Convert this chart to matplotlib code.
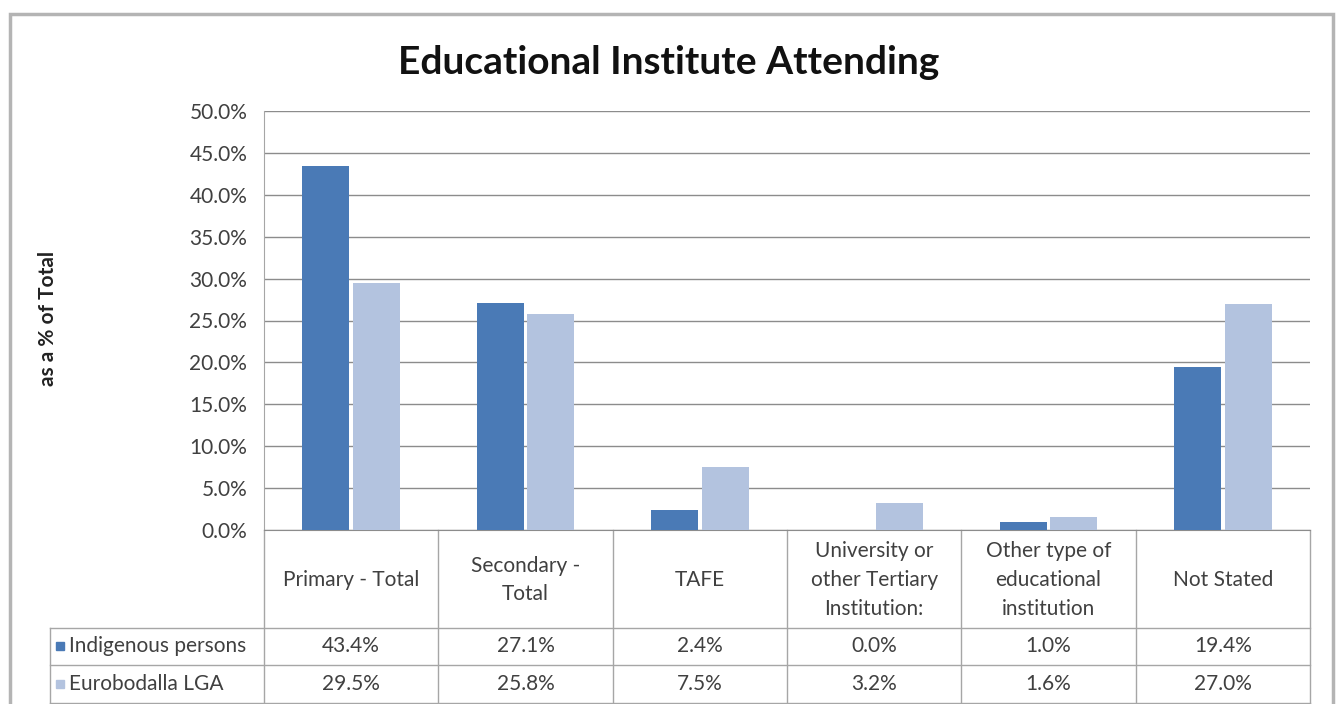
import numpy as np
import matplotlib
matplotlib.use("Agg")
import matplotlib.pyplot as plt
import matplotlib.transforms as mtransforms

categories = ["Primary - Total", "Secondary -\nTotal", "TAFE",
              "University or\nother Tertiary\nInstitution:",
              "Other type of\neducational\ninstitution", "Not Stated"]
indigenous = [43.4, 27.1, 2.4, 0.0, 1.0, 19.4]
eurobodalla = [29.5, 25.8, 7.5, 3.2, 1.6, 27.0]
series_names = ["Indigenous persons", "Eurobodalla LGA"]
yticks = np.arange(0, 50.1, 5)

dark = "#4a7ab6"
light = "#b3c3df"
grid_col = "#8c8c8c"
line_col = "#a6a6a6"
txt_col = "#404040"
fs = 15

plt.rcParams['font.family'] = ['Lato', 'DejaVu Sans']

W, H = 1338, 704
fig = plt.figure(figsize=(W / 100, H / 100), dpi=100)

# outer chart frame
fig.add_artist(plt.Rectangle((10 / W, -0.05), (1333 - 10) / W, (H - 14) / H + 0.05,
                             transform=fig.transFigure, fill=False,
                             edgecolor="#b4b4b4", linewidth=2.5))

# plot area
left, right, top, bottom = 264, 1310, 111, 530
ax = fig.add_axes([left / W, 1 - bottom / H, (right - left) / W, (bottom - top) / H])

x = np.arange(len(categories))
bw = 0.27
ax.bar(x - bw / 2 - 0.01, indigenous, width=bw, color=dark, zorder=3)
ax.bar(x + bw / 2 + 0.01, eurobodalla, width=bw, color=light, zorder=3)

ax.set_xlim(-0.5, len(categories) - 0.5)
ax.set_ylim(0, 50)
ax.set_yticks(yticks)
ax.set_yticklabels(["%.1f%%" % v for v in yticks], fontsize=fs, color=txt_col)
ax.yaxis.grid(True, color=grid_col, linewidth=1.0, zorder=0)
ax.set_xticks([])
ax.tick_params(axis="y", length=0, pad=12)
for s in ["top", "right", "bottom"]:
    ax.spines[s].set_visible(False)
ax.spines["left"].set_color(line_col)
ax.spines["bottom"].set_visible(True)
ax.spines["bottom"].set_color(grid_col)

ax.set_ylabel("as a % of Total", fontsize=fs, fontweight="bold", color="#222222", labelpad=0)
ax.yaxis.set_label_coords(-(left - 58) / (right - left), (bottom - 318) / (bottom - top))

fig.text(0.5, 1 - 62 / H, "Educational Institute Attending", ha="center", va="center",
         fontsize=28, fontweight="bold", color="#111111")

# data table below the plot area (x in data coords, y in pixels converted to axes coords)
ph = bottom - top
def ay(py):
    return (bottom - py) / ph

trans = mtransforms.blended_transform_factory(ax.transData, ax.transAxes)
ftrans = mtransforms.blended_transform_factory(fig.transFigure, ax.transAxes)
kw = dict(color=line_col, linewidth=1.0, clip_on=False)

row_tops = [628, 665]
row_bot = 704
# vertical lines at category boundaries
for b in np.arange(-0.5, len(categories)):
    ax.plot([b, b], [ay(530), ay(row_bot)], transform=trans, **kw)
# legend column left edge
ax.plot([50 / W, 50 / W], [ay(628), ay(row_bot)], transform=ftrans, **kw)
# horizontal lines
for py in row_tops + [703]:
    ax.plot([50 / W, right / W], [ay(py), ay(py)], transform=ftrans, **kw)

for i, c in enumerate(categories):
    ax.text(x[i], ay(580), c, transform=trans, ha="center", va="center",
            fontsize=fs, color=txt_col, linespacing=1.55)
    ax.text(x[i], ay(646), "%.1f%%" % indigenous[i], transform=trans,
            ha="center", va="center", fontsize=fs, color=txt_col)
    ax.text(x[i], ay(684), "%.1f%%" % eurobodalla[i], transform=trans,
            ha="center", va="center", fontsize=fs, color=txt_col)

for name, col, py in zip(series_names, [dark, light], [646, 684]):
    fig.add_artist(plt.Rectangle((56 / W, 1 - (py + 4) / H), 8 / W, 8 / H,
                                 transform=fig.transFigure, color=col))
    fig.text(69 / W, 1 - py / H, name, ha="left", va="center", fontsize=fs, color=txt_col)

fig.savefig("out.png", dpi=100)
